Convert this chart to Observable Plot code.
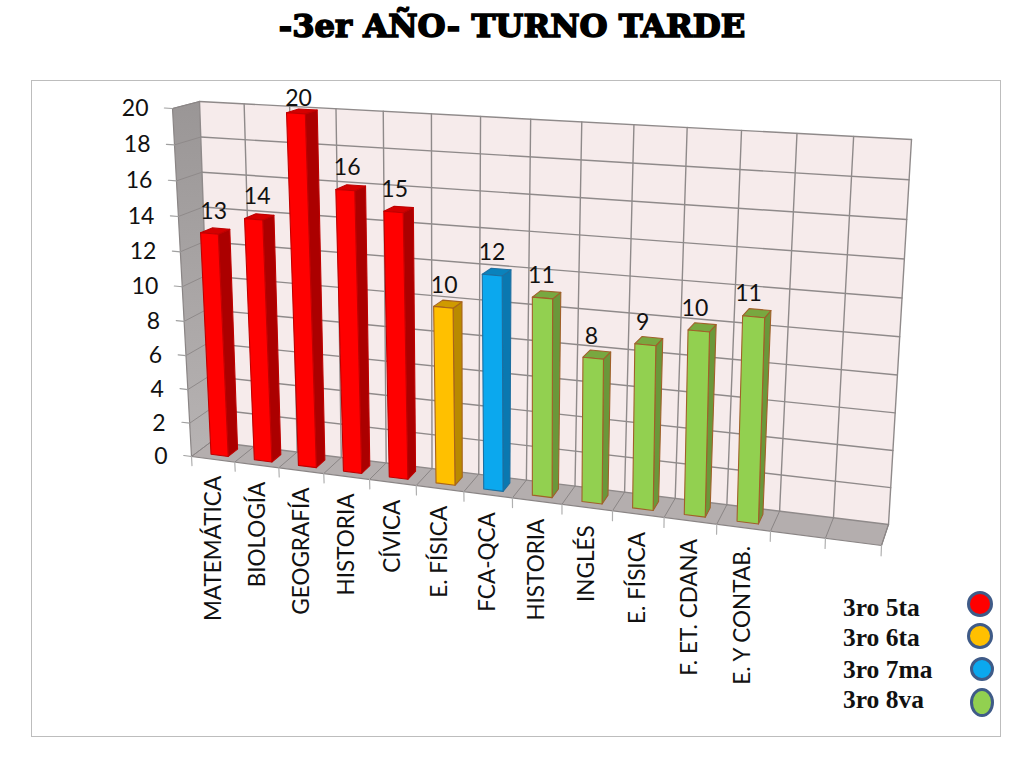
<!DOCTYPE html>
<html lang="es">
<head>
<meta charset="utf-8">
<script src="https://cdn.jsdelivr.net/npm/d3@7"></script>
<script src="https://cdn.jsdelivr.net/npm/@observablehq/plot@0.6"></script>
<style>
html,body{margin:0;padding:0;background:#fff;}
#page{position:relative;width:1024px;height:768px;overflow:hidden;}
#title{position:absolute;left:0;width:1024px;top:7px;text-align:center;font:bold 32.2px "DejaVu Serif",serif;color:#000;-webkit-text-stroke:1.6px #000;white-space:pre;}
#frame{position:absolute;left:31px;top:80px;width:970px;height:657px;border:1.5px solid #bdbdbd;box-sizing:border-box;}
#chart{position:absolute;left:0;top:0;}
.leg{position:absolute;left:843px;font:bold 25.5px "Liberation Serif",serif;color:#111;line-height:28px;white-space:pre;}
.swatch{position:absolute;box-sizing:border-box;border:3px solid #3f5b88;border-radius:50%;}
</style>
</head>
<body>
<div id="page">
<div id="frame"></div>
<div id="chart"></div>
<div id="title">-3er AÑO- TURNO TARDE</div>
</div>
<script>
const subjects = ["MATEMÁTICA","BIOLOGÍA","GEOGRAFÍA","HISTORIA","CÍVICA","E. FÍSICA","FCA-QCA","HISTORIA","INGLÉS","E. FÍSICA","F. ET. CDANA","E. Y CONTAB."];
const marksValues = [13,14,20,16,15,10,12,11,8,9,10,11];
const groups = [0,0,0,0,0,1,2,3,3,3,3,3];
const groupNames = ["3ro 5ta","3ro 6ta","3ro 7ma","3ro 8va"];
const groupFront = ["#ff0000","#ffc000","#0ba8ee","#92d050"];
const groupSide  = ["#ab0000","#b98a00","#0a78b0","#6a983a"];
const groupTop   = ["#d40000","#cf9a00","#0a82bc","#78a840"];
const groupEdge  = ["#c00000","#a8641c","#1e6fa0","#a0602a"];
const yTicks = [0,2,4,6,8,10,12,14,16,18,20];
const slots = 14, yMax = 20;

// the camera of the 3-D chart: screen corners of the value box (front/back, bottom/top, left/right)
const cam = {
  fbl:[191,456], fbr:[881,545], ftl:[172,108], ftr:[897,151],
  bbl:[211,441], bbr:[888,524], btl:[199,101], btr:[911,139],
  kx:1.15, ky:1.05
};
const lerp = (a,b,t)=>[a[0]+(b[0]-a[0])*t, a[1]+(b[1]-a[1])*t];
const projection = d3.geoTransform({
  point(u,v,d){
    d = d || 0;
    const t = u/(u+cam.kx*(slots-u)), w = v/(v+cam.ky*(yMax-v));
    const f = lerp(lerp(cam.fbl,cam.fbr,t), lerp(cam.ftl,cam.ftr,t), w);
    const b = lerp(lerp(cam.bbl,cam.bbr,t), lerp(cam.btl,cam.btr,t), w);
    const p = lerp(f,b,d);
    this.stream.point(p[0],p[1]);
  }
});

const poly = (pts)=>({type:"Polygon",coordinates:[[...pts,pts[0]]]});
const seg = (a,b)=>({type:"LineString",coordinates:[a,b]});
const slotIdx = d3.range(slots+1);

const barW0=0.33, barW1=0.73, d0=0.27, d1=0.75;
const rows = subjects.map((s,i)=>({subject:s,value:marksValues[i],i,g:groups[i]}));
const faces = rows.flatMap(r=>{
  const a=r.i+barW0,b=r.i+barW1,v=r.value;
  return [
    {geometry:poly([[b,0,d0],[b,0,d1],[b,v,d1],[b,v,d0]]),fill:groupSide[r.g],stroke:groupEdge[r.g]},
    {geometry:poly([[a,v,d0],[b,v,d0],[b,v,d1],[a,v,d1]]),fill:groupTop[r.g],stroke:groupEdge[r.g]},
    {geometry:poly([[a,0,d0],[b,0,d0],[b,v,d0],[a,v,d0]]),fill:groupFront[r.g],stroke:groupEdge[r.g]}
  ];
});

const defs = ()=>{
  const s=d3.create("svg:defs");
  const g=s.append("linearGradient").attr("id","wallg").attr("x1",0).attr("x2",0).attr("y1",0).attr("y2",1);
  g.append("stop").attr("offset",0).attr("stop-color","#9a9696");
  g.append("stop").attr("offset",1).attr("stop-color","#b7b3b3");
  return s.node();
};
const gridColor="#8f8a8a";
const labelFont="Lato, Carlito, sans-serif";

const plot = Plot.plot({
  width:1024,height:768,margin:0,
  projection,
  color:{type:"identity"},
  style:{background:"transparent",overflow:"visible"},
  marks:[
    defs,
    Plot.geo([poly([[0,0,1],[slots,0,1],[slots,yMax,1],[0,yMax,1]])],{fill:"#f6ebeb",stroke:"none"}),
    Plot.geo([poly([[0,0,0],[0,0,1],[0,yMax,1],[0,yMax,0]])],{fill:"url(#wallg)",stroke:"none"}),
    Plot.geo([poly([[0,0,0],[slots,0,0],[slots,0,1],[0,0,1]])],{fill:"#b4aeae",stroke:"none"}),
    Plot.geo(yTicks.map(v=>seg([0,v,1],[slots,v,1])),{stroke:gridColor,strokeWidth:1.4}),
    Plot.geo(slotIdx.map(u=>seg([u,0,1],[u,yMax,1])),{stroke:gridColor,strokeWidth:1.4}),
    Plot.geo(yTicks.map(v=>seg([0,v,0],[0,v,1])),{stroke:gridColor,strokeWidth:1}),
    Plot.geo(slotIdx.map(u=>seg([u,0,0],[u,0,1])),{stroke:"#8a8585",strokeWidth:1}),
    Plot.geo([seg([0,0,0],[slots,0,0]),seg([slots,0,0],[slots,0,1]),seg([0,0,0],[0,yMax,0]),seg([0,yMax,0],[0,yMax,1])],{stroke:"#8a8585",strokeWidth:1.2}),
    // ticks
    Plot.geo(yTicks.map(v=>seg([0,v,0],[-0.18,v,0])),{stroke:"#a0a0a0",strokeWidth:1.2}),
    Plot.geo(slotIdx.map(u=>seg([u,0,0],[u,-0.55,0])),{stroke:"#b0b0b0",strokeWidth:1.2}),
    // bars
    Plot.geo(faces,{geometry:"geometry",fill:"fill",stroke:"stroke",strokeWidth:1.1}),
    // value labels
    Plot.text(rows,{x:d=>d.i+0.5+0.28*(1-d.i/11),y:d=>Math.min(d.value+0.5,yMax),text:d=>String(d.value),dy:-17,fontSize:23,fontFamily:labelFont,fill:"#111"}),
    // y axis labels
    Plot.text(yTicks,{x:0,y:d=>d,text:d=>String(d),dx:-24,textAnchor:"end",fontSize:23,fontFamily:labelFont,fill:"#111"}),
    // category labels
    Plot.text(rows,{x:d=>d.i+0.5,y:-1,text:"subject",rotate:-90,textAnchor:"end",fontSize:22.5,fontFamily:labelFont,fill:"#111"})
  ]
});
document.getElementById("chart").appendChild(plot);

// legend
const page=document.getElementById("page");
const legTop=[594,624,656,686];
const swatch=[[967,591,26,26],[967,623,26,26],[970,657,24,24],[970,688,24,29]];
groupNames.forEach((n,i)=>{
  const t=document.createElement("div");t.className="leg";t.textContent=n;t.style.top=legTop[i]+"px";page.appendChild(t);
  const s=document.createElement("div");s.className="swatch";
  const [x,y,w,h]=swatch[i];
  s.style.cssText=`left:${x}px;top:${y}px;width:${w}px;height:${h}px;background:${groupFront[i]}`;
  page.appendChild(s);
});
</script>
</body>
</html>
